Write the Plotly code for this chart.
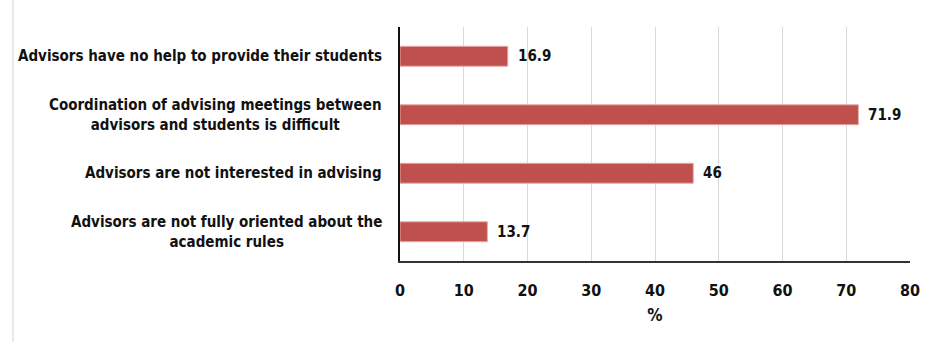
import plotly.graph_objects as go

# Reasons reported for advising problems (% of respondents)
categories = [
    "Advisors have no help to provide their students",
    "Coordination of advising meetings between<br>advisors and students is difficult",
    "Advisors are not interested in advising",
    "Advisors are not fully oriented about the<br>academic rules",
]
values = [16.9, 71.9, 46, 13.7]
value_labels = ["16.9", "71.9", "46", "13.7"]
x_ticks = [0, 10, 20, 30, 40, 50, 60, 70, 80]

FONT = "DejaVu Sans Condensed"
W, H = 934, 342
ML, MR, MT, MB = 400, 24, 27, 81

fig = go.Figure(
    go.Bar(
        x=values,
        y=categories,
        orientation="h",
        width=0.34,
        marker=dict(color="#c0504d", line=dict(color="#e6a9a7", width=1)),
        hoverinfo="skip",
    )
)

# Value labels just past the end of each bar
for cat, v, lab in zip(categories, values, value_labels):
    fig.add_annotation(
        x=v, xref="x", xshift=8, xanchor="left",
        y=cat, yref="y", yanchor="middle",
        text=f"<b>{lab}</b>", showarrow=False,
        font=dict(family=FONT, size=15, color="#111111"),
    )

# Category labels, centred multi-line text left of the plot
for cat in categories:
    fig.add_annotation(
        x=0, xref="paper", xshift=-16, xanchor="right",
        y=cat, yref="y", yanchor="middle",
        text=f"<b>{cat}</b>", showarrow=False, align="center",
        font=dict(family=FONT, size=15, color="#111111"),
    )

# Thin frame line on the far left of the figure
pw = W - ML - MR
fig.add_shape(
    type="line", xref="paper", yref="paper",
    x0=(13 - ML) / pw, x1=(13 - ML) / pw,
    y0=-MB / (H - MT - MB), y1=(H - MT - 15) / (H - MT - MB),
    line=dict(color="#d4d4d4", width=1),
)

fig.update_layout(
    width=W, height=H,
    margin=dict(l=ML, r=MR, t=MT, b=MB),
    paper_bgcolor="white", plot_bgcolor="white",
    showlegend=False,
    xaxis=dict(
        range=[0, 80],
        tickvals=x_ticks,
        ticktext=[f"<b>{t}</b>" for t in x_ticks],
        tickfont=dict(family=FONT, size=16, color="#111111"),
        ticklabelstandoff=14,
        showgrid=True, gridcolor="#d9d9d9", gridwidth=1,
        showline=True, linecolor="#333333", linewidth=1.5,
        zeroline=False,
        title=dict(text="<b>%</b>", font=dict(family=FONT, size=17, color="#111111"), standoff=10),
    ),
    yaxis=dict(
        autorange="reversed",
        showticklabels=False,
        showgrid=False,
        showline=True, linecolor="#111111", linewidth=1.5,
        zeroline=False,
    ),
)

fig.write_html("out.html")
